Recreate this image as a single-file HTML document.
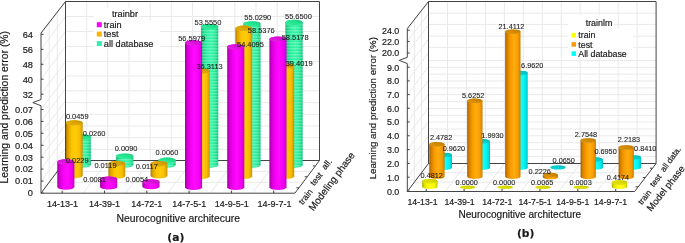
<!DOCTYPE html>
<html><head><meta charset="utf-8"><title>chart</title>
<style>html,body{margin:0;padding:0;background:#fff}svg{display:block}</style></head>
<body>
<svg width="685" height="243" viewBox="0 0 685 243">

<defs>
<linearGradient id="gM" x1="0" x2="1" y1="0" y2="0">
 <stop offset="0" stop-color="#9a009a"/><stop offset="0.13" stop-color="#d000d0"/><stop offset="0.35" stop-color="#f800f8"/><stop offset="0.58" stop-color="#ff0aff"/><stop offset="0.82" stop-color="#f000f0"/><stop offset="1" stop-color="#c600c6"/>
</linearGradient>
<linearGradient id="gO" x1="0" x2="1" y1="0" y2="0">
 <stop offset="0" stop-color="#a87400"/><stop offset="0.13" stop-color="#e0a200"/><stop offset="0.35" stop-color="#fcc400"/><stop offset="0.58" stop-color="#ffcc08"/><stop offset="0.82" stop-color="#f8bc00"/><stop offset="1" stop-color="#cc9000"/>
</linearGradient>
<linearGradient id="gG" x1="0" x2="1" y1="0" y2="0">
 <stop offset="0" stop-color="#10a868"/><stop offset="0.13" stop-color="#1cd888"/><stop offset="0.35" stop-color="#2cf0a0"/><stop offset="0.58" stop-color="#38f6aa"/><stop offset="0.82" stop-color="#28e898"/><stop offset="1" stop-color="#16c07a"/>
</linearGradient>
<linearGradient id="gY" x1="0" x2="1" y1="0" y2="0">
 <stop offset="0" stop-color="#a8a800"/><stop offset="0.13" stop-color="#dcdc00"/><stop offset="0.35" stop-color="#fafa00"/><stop offset="0.58" stop-color="#ffff18"/><stop offset="0.82" stop-color="#f4f400"/><stop offset="1" stop-color="#c4c400"/>
</linearGradient>
<linearGradient id="gR" x1="0" x2="1" y1="0" y2="0">
 <stop offset="0" stop-color="#9c5800"/><stop offset="0.13" stop-color="#d88000"/><stop offset="0.35" stop-color="#f89c00"/><stop offset="0.58" stop-color="#ffac10"/><stop offset="0.82" stop-color="#f89e00"/><stop offset="1" stop-color="#cc7c00"/>
</linearGradient>
<linearGradient id="gC" x1="0" x2="1" y1="0" y2="0">
 <stop offset="0" stop-color="#00a4a4"/><stop offset="0.13" stop-color="#00d8d8"/><stop offset="0.35" stop-color="#00f8f8"/><stop offset="0.58" stop-color="#10ffff"/><stop offset="0.82" stop-color="#00f0f0"/><stop offset="1" stop-color="#00c0c0"/>
</linearGradient>
<pattern id="stripe" width="4" height="3" patternUnits="userSpaceOnUse">
 <rect x="0" y="0" width="4" height="1.4" fill="#ffffff" fill-opacity="0.24"/>
</pattern>
<linearGradient id="tgM" x1="0" y1="1" x2="1" y2="0"><stop offset="0" stop-color="#e02ce0"/><stop offset="0.5" stop-color="#dc10dc"/><stop offset="1" stop-color="#bd0dbd"/></linearGradient>
<linearGradient id="tgO" x1="0" y1="1" x2="1" y2="0"><stop offset="0" stop-color="#e0b01e"/><stop offset="0.5" stop-color="#dca600"/><stop offset="1" stop-color="#bd8e00"/></linearGradient>
<linearGradient id="tgG" x1="0" y1="1" x2="1" y2="0"><stop offset="0" stop-color="#3ce99d"/><stop offset="0.5" stop-color="#22e690"/><stop offset="1" stop-color="#1dc57b"/></linearGradient>
<linearGradient id="tgY" x1="0" y1="1" x2="1" y2="0"><stop offset="0" stop-color="#e0e01e"/><stop offset="0.5" stop-color="#dcdc00"/><stop offset="1" stop-color="#bdbd00"/></linearGradient>
<linearGradient id="tgR" x1="0" y1="1" x2="1" y2="0"><stop offset="0" stop-color="#d9981e"/><stop offset="0.5" stop-color="#d48a00"/><stop offset="1" stop-color="#b67600"/></linearGradient>
<linearGradient id="tgC" x1="0" y1="1" x2="1" y2="0"><stop offset="0" stop-color="#1ed5d5"/><stop offset="0.5" stop-color="#00d0d0"/><stop offset="1" stop-color="#00b2b2"/></linearGradient>
</defs>

<rect width="685" height="243" fill="#fff"/>
<rect x="65.5" y="1.5" width="254.0" height="159.0" fill="#fff"/>
<line x1="86.7" y1="1.5" x2="86.7" y2="160.5" stroke="#e9e9e9" stroke-width="1"/>
<line x1="86.7" y1="160.5" x2="62.2" y2="193.2" stroke="#e9e9e9" stroke-width="1"/>
<line x1="107.8" y1="1.5" x2="107.8" y2="160.5" stroke="#e9e9e9" stroke-width="1"/>
<line x1="107.8" y1="160.5" x2="83.3" y2="193.2" stroke="#e9e9e9" stroke-width="1"/>
<line x1="129.0" y1="1.5" x2="129.0" y2="160.5" stroke="#e9e9e9" stroke-width="1"/>
<line x1="129.0" y1="160.5" x2="104.5" y2="193.2" stroke="#e9e9e9" stroke-width="1"/>
<line x1="150.2" y1="1.5" x2="150.2" y2="160.5" stroke="#e9e9e9" stroke-width="1"/>
<line x1="150.2" y1="160.5" x2="125.6" y2="193.2" stroke="#e9e9e9" stroke-width="1"/>
<line x1="171.3" y1="1.5" x2="171.3" y2="160.5" stroke="#e9e9e9" stroke-width="1"/>
<line x1="171.3" y1="160.5" x2="146.8" y2="193.2" stroke="#e9e9e9" stroke-width="1"/>
<line x1="192.5" y1="1.5" x2="192.5" y2="160.5" stroke="#e9e9e9" stroke-width="1"/>
<line x1="192.5" y1="160.5" x2="167.9" y2="193.2" stroke="#e9e9e9" stroke-width="1"/>
<line x1="213.7" y1="1.5" x2="213.7" y2="160.5" stroke="#e9e9e9" stroke-width="1"/>
<line x1="213.7" y1="160.5" x2="189.1" y2="193.2" stroke="#e9e9e9" stroke-width="1"/>
<line x1="234.8" y1="1.5" x2="234.8" y2="160.5" stroke="#e9e9e9" stroke-width="1"/>
<line x1="234.8" y1="160.5" x2="210.3" y2="193.2" stroke="#e9e9e9" stroke-width="1"/>
<line x1="256.0" y1="1.5" x2="256.0" y2="160.5" stroke="#e9e9e9" stroke-width="1"/>
<line x1="256.0" y1="160.5" x2="231.4" y2="193.2" stroke="#e9e9e9" stroke-width="1"/>
<line x1="277.2" y1="1.5" x2="277.2" y2="160.5" stroke="#e9e9e9" stroke-width="1"/>
<line x1="277.2" y1="160.5" x2="252.6" y2="193.2" stroke="#e9e9e9" stroke-width="1"/>
<line x1="298.3" y1="1.5" x2="298.3" y2="160.5" stroke="#e9e9e9" stroke-width="1"/>
<line x1="298.3" y1="160.5" x2="273.7" y2="193.2" stroke="#e9e9e9" stroke-width="1"/>
<line x1="65.5" y1="16.5" x2="319.5" y2="16.5" stroke="#e9e9e9" stroke-width="1"/>
<line x1="65.5" y1="31.5" x2="319.5" y2="31.5" stroke="#e9e9e9" stroke-width="1"/>
<line x1="65.5" y1="46.5" x2="319.5" y2="46.5" stroke="#e9e9e9" stroke-width="1"/>
<line x1="65.5" y1="61.5" x2="319.5" y2="61.5" stroke="#e9e9e9" stroke-width="1"/>
<line x1="65.5" y1="76.0" x2="319.5" y2="76.0" stroke="#e9e9e9" stroke-width="1"/>
<line x1="65.5" y1="90.9" x2="319.5" y2="90.9" stroke="#e9e9e9" stroke-width="1"/>
<line x1="65.5" y1="102.6" x2="319.5" y2="102.6" stroke="#e9e9e9" stroke-width="1"/>
<line x1="65.5" y1="114.3" x2="319.5" y2="114.3" stroke="#e9e9e9" stroke-width="1"/>
<line x1="65.5" y1="126.0" x2="319.5" y2="126.0" stroke="#e9e9e9" stroke-width="1"/>
<line x1="65.5" y1="137.7" x2="319.5" y2="137.7" stroke="#e9e9e9" stroke-width="1"/>
<line x1="65.5" y1="149.4" x2="319.5" y2="149.4" stroke="#e9e9e9" stroke-width="1"/>
<line x1="41.0" y1="34.3" x2="65.5" y2="1.6" stroke="#e9e9e9" stroke-width="1"/>
<line x1="41.0" y1="49.3" x2="65.5" y2="16.6" stroke="#e9e9e9" stroke-width="1"/>
<line x1="41.0" y1="64.3" x2="65.5" y2="31.6" stroke="#e9e9e9" stroke-width="1"/>
<line x1="41.0" y1="79.2" x2="65.5" y2="46.5" stroke="#e9e9e9" stroke-width="1"/>
<line x1="41.0" y1="94.2" x2="65.5" y2="61.5" stroke="#e9e9e9" stroke-width="1"/>
<line x1="41.0" y1="109.5" x2="65.5" y2="76.8" stroke="#e9e9e9" stroke-width="1"/>
<line x1="41.0" y1="121.4" x2="65.5" y2="88.7" stroke="#e9e9e9" stroke-width="1"/>
<line x1="41.0" y1="133.3" x2="65.5" y2="100.7" stroke="#e9e9e9" stroke-width="1"/>
<line x1="41.0" y1="145.3" x2="65.5" y2="112.6" stroke="#e9e9e9" stroke-width="1"/>
<line x1="41.0" y1="157.2" x2="65.5" y2="124.5" stroke="#e9e9e9" stroke-width="1"/>
<line x1="41.0" y1="169.1" x2="65.5" y2="136.4" stroke="#e9e9e9" stroke-width="1"/>
<line x1="41.0" y1="181.1" x2="65.5" y2="148.4" stroke="#e9e9e9" stroke-width="1"/>
<line x1="41.0" y1="192.9" x2="65.5" y2="160.2" stroke="#e9e9e9" stroke-width="1"/>
<line x1="49.2" y1="22.5" x2="49.2" y2="182.3" stroke="#e9e9e9" stroke-width="1"/>
<line x1="49.2" y1="182.3" x2="303.1" y2="182.3" stroke="#e9e9e9" stroke-width="1"/>
<line x1="57.3" y1="12.0" x2="57.3" y2="171.4" stroke="#e9e9e9" stroke-width="1"/>
<line x1="57.3" y1="171.4" x2="311.3" y2="171.4" stroke="#e9e9e9" stroke-width="1"/>
<polyline points="41,33 65.5,1.5 319.5,1.5 319.5,160.5 65.5,160.5" fill="none" stroke="#444" stroke-width="1"/>
<line x1="65.5" y1="1.5" x2="65.5" y2="160.5" stroke="#444" stroke-width="1"/>
<line x1="41.0" y1="193.2" x2="65.5" y2="160.5" stroke="#444" stroke-width="1"/>
<line x1="319.5" y1="160.5" x2="294.9" y2="193.2" stroke="#444" stroke-width="1"/>
<line x1="41.0" y1="193.2" x2="294.9" y2="193.2" stroke="#444" stroke-width="1"/>
<polyline points="41,33 41,99.5 32.8,102.6 41,105.69999999999999 41,193.2" fill="none" stroke="#444" stroke-width="1"/>
<line x1="41.0" y1="34.3" x2="43.5" y2="34.3" stroke="#444" stroke-width="1"/>
<text x="33.0" y="37.6" font-size="9.25" text-anchor="end" font-family='"Liberation Sans", Arial, sans-serif' fill="#1a1a1a" stroke="#1a1a1a" stroke-width="0.18">64</text>
<line x1="41.0" y1="49.3" x2="43.5" y2="49.3" stroke="#444" stroke-width="1"/>
<text x="33.0" y="52.6" font-size="9.25" text-anchor="end" font-family='"Liberation Sans", Arial, sans-serif' fill="#1a1a1a" stroke="#1a1a1a" stroke-width="0.18">56</text>
<line x1="41.0" y1="64.3" x2="43.5" y2="64.3" stroke="#444" stroke-width="1"/>
<text x="33.0" y="67.6" font-size="9.25" text-anchor="end" font-family='"Liberation Sans", Arial, sans-serif' fill="#1a1a1a" stroke="#1a1a1a" stroke-width="0.18">48</text>
<line x1="41.0" y1="79.2" x2="43.5" y2="79.2" stroke="#444" stroke-width="1"/>
<text x="33.0" y="82.5" font-size="9.25" text-anchor="end" font-family='"Liberation Sans", Arial, sans-serif' fill="#1a1a1a" stroke="#1a1a1a" stroke-width="0.18">40</text>
<line x1="41.0" y1="94.2" x2="43.5" y2="94.2" stroke="#444" stroke-width="1"/>
<text x="33.0" y="97.5" font-size="9.25" text-anchor="end" font-family='"Liberation Sans", Arial, sans-serif' fill="#1a1a1a" stroke="#1a1a1a" stroke-width="0.18">32</text>
<line x1="41.0" y1="109.5" x2="43.5" y2="109.5" stroke="#444" stroke-width="1"/>
<text x="33.0" y="112.8" font-size="9.25" text-anchor="end" font-family='"Liberation Sans", Arial, sans-serif' fill="#1a1a1a" stroke="#1a1a1a" stroke-width="0.18">0.07</text>
<line x1="41.0" y1="121.4" x2="43.5" y2="121.4" stroke="#444" stroke-width="1"/>
<text x="33.0" y="124.7" font-size="9.25" text-anchor="end" font-family='"Liberation Sans", Arial, sans-serif' fill="#1a1a1a" stroke="#1a1a1a" stroke-width="0.18">0.06</text>
<line x1="41.0" y1="133.3" x2="43.5" y2="133.3" stroke="#444" stroke-width="1"/>
<text x="33.0" y="136.7" font-size="9.25" text-anchor="end" font-family='"Liberation Sans", Arial, sans-serif' fill="#1a1a1a" stroke="#1a1a1a" stroke-width="0.18">0.05</text>
<line x1="41.0" y1="145.3" x2="43.5" y2="145.3" stroke="#444" stroke-width="1"/>
<text x="33.0" y="148.6" font-size="9.25" text-anchor="end" font-family='"Liberation Sans", Arial, sans-serif' fill="#1a1a1a" stroke="#1a1a1a" stroke-width="0.18">0.04</text>
<line x1="41.0" y1="157.2" x2="43.5" y2="157.2" stroke="#444" stroke-width="1"/>
<text x="33.0" y="160.5" font-size="9.25" text-anchor="end" font-family='"Liberation Sans", Arial, sans-serif' fill="#1a1a1a" stroke="#1a1a1a" stroke-width="0.18">0.03</text>
<line x1="41.0" y1="169.1" x2="43.5" y2="169.1" stroke="#444" stroke-width="1"/>
<text x="33.0" y="172.4" font-size="9.25" text-anchor="end" font-family='"Liberation Sans", Arial, sans-serif' fill="#1a1a1a" stroke="#1a1a1a" stroke-width="0.18">0.02</text>
<line x1="41.0" y1="181.1" x2="43.5" y2="181.1" stroke="#444" stroke-width="1"/>
<text x="33.0" y="184.4" font-size="9.25" text-anchor="end" font-family='"Liberation Sans", Arial, sans-serif' fill="#1a1a1a" stroke="#1a1a1a" stroke-width="0.18">0.01</text>
<line x1="41.0" y1="192.9" x2="43.5" y2="192.9" stroke="#444" stroke-width="1"/>
<text x="33.0" y="196.2" font-size="9.25" text-anchor="end" font-family='"Liberation Sans", Arial, sans-serif' fill="#1a1a1a" stroke="#1a1a1a" stroke-width="0.18">0</text>
<line x1="299.0" y1="187.8" x2="296.4" y2="187.8" stroke="#444" stroke-width="1"/>
<line x1="307.2" y1="176.8" x2="304.6" y2="176.8" stroke="#444" stroke-width="1"/>
<line x1="315.4" y1="165.9" x2="312.8" y2="165.9" stroke="#444" stroke-width="1"/>
<line x1="62.2" y1="193.2" x2="62.2" y2="190.6" stroke="#444" stroke-width="1"/>
<text x="62.5" y="206.9" font-size="9.0" text-anchor="middle" font-family='"Liberation Sans", Arial, sans-serif' fill="#1a1a1a" stroke="#1a1a1a" stroke-width="0.18">14-13-1</text>
<line x1="104.5" y1="193.2" x2="104.5" y2="190.6" stroke="#444" stroke-width="1"/>
<text x="104.5" y="206.9" font-size="9.0" text-anchor="middle" font-family='"Liberation Sans", Arial, sans-serif' fill="#1a1a1a" stroke="#1a1a1a" stroke-width="0.18">14-39-1</text>
<line x1="146.8" y1="193.2" x2="146.8" y2="190.6" stroke="#444" stroke-width="1"/>
<text x="146.8" y="206.9" font-size="9.0" text-anchor="middle" font-family='"Liberation Sans", Arial, sans-serif' fill="#1a1a1a" stroke="#1a1a1a" stroke-width="0.18">14-72-1</text>
<line x1="189.1" y1="193.2" x2="189.1" y2="190.6" stroke="#444" stroke-width="1"/>
<text x="189.2" y="206.9" font-size="9.0" text-anchor="middle" font-family='"Liberation Sans", Arial, sans-serif' fill="#1a1a1a" stroke="#1a1a1a" stroke-width="0.18">14-7-5-1</text>
<line x1="231.4" y1="193.2" x2="231.4" y2="190.6" stroke="#444" stroke-width="1"/>
<text x="231.8" y="206.9" font-size="9.0" text-anchor="middle" font-family='"Liberation Sans", Arial, sans-serif' fill="#1a1a1a" stroke="#1a1a1a" stroke-width="0.18">14-9-5-1</text>
<line x1="273.7" y1="193.2" x2="273.7" y2="190.6" stroke="#444" stroke-width="1"/>
<text x="274.5" y="206.9" font-size="9.0" text-anchor="middle" font-family='"Liberation Sans", Arial, sans-serif' fill="#1a1a1a" stroke="#1a1a1a" stroke-width="0.18">14-9-7-1</text>
<rect x="94.3" y="7.5" width="46.2" height="14" fill="#fff"/>
<rect x="94.3" y="20.5" width="65.7" height="27.5" fill="#fff"/>
<text x="125.0" y="16.5" font-size="9.2" text-anchor="middle" font-family='"Liberation Sans", Arial, sans-serif' fill="#1a1a1a" stroke="#1a1a1a" stroke-width="0.18">trainbr</text>
<rect x="96.8" y="22.2" width="5" height="5" fill="#ff00ff"/>
<text x="103.8" y="27.9" font-size="9.2" font-family='"Liberation Sans", Arial, sans-serif' fill="#1a1a1a" stroke="#1a1a1a" stroke-width="0.18">train</text>
<rect x="96.8" y="31.6" width="5" height="5" fill="#ffb400"/>
<text x="103.8" y="37.4" font-size="9.2" font-family='"Liberation Sans", Arial, sans-serif' fill="#1a1a1a" stroke="#1a1a1a" stroke-width="0.18">test</text>
<rect x="96.8" y="41.1" width="5" height="5" fill="#33eeaa"/>
<text x="103.8" y="46.8" font-size="9.2" font-family='"Liberation Sans", Arial, sans-serif' fill="#1a1a1a" stroke="#1a1a1a" stroke-width="0.18">all database</text>
<path d="M73.6,136.9 L73.6,165.0 A8.65,2.70 0 0 0 90.9,165.0 L90.9,136.9 A8.65,2.70 0 0 0 73.6,136.9 Z" fill="url(#gG)"/>
<path d="M73.6,136.9 L73.6,165.0 A8.65,2.70 0 0 0 90.9,165.0 L90.9,136.9 A8.65,2.70 0 0 0 73.6,136.9 Z" fill="url(#stripe)"/>
<ellipse cx="82.2" cy="136.9" rx="8.65" ry="2.70" fill="url(#tgG)"/>
<path d="M116.1,156.1 L116.1,165.0 A8.65,2.70 0 0 0 133.4,165.0 L133.4,156.1 A8.65,2.70 0 0 0 116.1,156.1 Z" fill="url(#gG)"/>
<path d="M116.1,156.1 L116.1,165.0 A8.65,2.70 0 0 0 133.4,165.0 L133.4,156.1 A8.65,2.70 0 0 0 116.1,156.1 Z" fill="url(#stripe)"/>
<ellipse cx="124.8" cy="156.1" rx="8.65" ry="2.70" fill="url(#tgG)"/>
<path d="M158.4,160.3 L158.4,165.1 A8.65,2.70 0 0 0 175.7,165.1 L175.7,160.3 A8.65,2.70 0 0 0 158.4,160.3 Z" fill="url(#gG)"/>
<path d="M158.4,160.3 L158.4,165.1 A8.65,2.70 0 0 0 175.7,165.1 L175.7,160.3 A8.65,2.70 0 0 0 158.4,160.3 Z" fill="url(#stripe)"/>
<ellipse cx="167.1" cy="160.3" rx="8.65" ry="2.70" fill="url(#tgG)"/>
<path d="M201.0,26.6 L201.0,165.2 A8.65,2.70 0 0 0 218.3,165.2 L218.3,26.6 A8.65,2.70 0 0 0 201.0,26.6 Z" fill="url(#gG)"/>
<path d="M201.0,26.6 L201.0,165.2 A8.65,2.70 0 0 0 218.3,165.2 L218.3,26.6 A8.65,2.70 0 0 0 201.0,26.6 Z" fill="url(#stripe)"/>
<ellipse cx="209.7" cy="26.6" rx="8.65" ry="2.70" fill="url(#tgG)"/>
<path d="M243.3,23.9 L243.3,165.2 A8.65,2.70 0 0 0 260.6,165.2 L260.6,23.9 A8.65,2.70 0 0 0 243.3,23.9 Z" fill="url(#gG)"/>
<path d="M243.3,23.9 L243.3,165.2 A8.65,2.70 0 0 0 260.6,165.2 L260.6,23.9 A8.65,2.70 0 0 0 243.3,23.9 Z" fill="url(#stripe)"/>
<ellipse cx="252.0" cy="23.9" rx="8.65" ry="2.70" fill="url(#tgG)"/>
<path d="M285.4,22.5 L285.4,165.2 A8.65,2.70 0 0 0 302.7,165.2 L302.7,22.5 A8.65,2.70 0 0 0 285.4,22.5 Z" fill="url(#gG)"/>
<path d="M285.4,22.5 L285.4,165.2 A8.65,2.70 0 0 0 302.7,165.2 L302.7,22.5 A8.65,2.70 0 0 0 285.4,22.5 Z" fill="url(#stripe)"/>
<ellipse cx="294.0" cy="22.5" rx="8.65" ry="2.70" fill="url(#tgG)"/>
<path d="M65.9,122.9 L65.9,175.7 A8.40,2.70 0 0 0 82.7,175.7 L82.7,122.9 A8.40,2.70 0 0 0 65.9,122.9 Z" fill="url(#gO)"/>
<ellipse cx="74.3" cy="122.9" rx="8.40" ry="2.70" fill="url(#tgO)"/>
<path d="M108.4,163.7 L108.4,176.1 A8.40,2.70 0 0 0 125.2,176.1 L125.2,163.7 A8.40,2.70 0 0 0 108.4,163.7 Z" fill="url(#gO)"/>
<ellipse cx="116.8" cy="163.7" rx="8.40" ry="2.70" fill="url(#tgO)"/>
<path d="M150.6,163.7 L150.6,175.8 A8.40,2.70 0 0 0 167.4,175.8 L167.4,163.7 A8.40,2.70 0 0 0 150.6,163.7 Z" fill="url(#gO)"/>
<ellipse cx="159.0" cy="163.7" rx="8.40" ry="2.70" fill="url(#tgO)"/>
<path d="M192.9,71.1 L192.9,176.3 A8.40,2.70 0 0 0 209.7,176.3 L209.7,71.1 A8.40,2.70 0 0 0 192.9,71.1 Z" fill="url(#gO)"/>
<ellipse cx="201.3" cy="71.1" rx="8.40" ry="2.70" fill="url(#tgO)"/>
<path d="M235.4,28.3 L235.4,176.3 A8.40,2.70 0 0 0 252.2,176.3 L252.2,28.3 A8.40,2.70 0 0 0 235.4,28.3 Z" fill="url(#gO)"/>
<ellipse cx="243.8" cy="28.3" rx="8.40" ry="2.70" fill="url(#tgO)"/>
<path d="M277.4,65.9 L277.4,176.3 A8.40,2.70 0 0 0 294.2,176.3 L294.2,65.9 A8.40,2.70 0 0 0 277.4,65.9 Z" fill="url(#gO)"/>
<ellipse cx="285.8" cy="65.9" rx="8.40" ry="2.70" fill="url(#tgO)"/>
<path d="M57.3,162.0 L57.3,187.0 A8.55,2.70 0 0 0 74.4,187.0 L74.4,162.0 A8.55,2.70 0 0 0 57.3,162.0 Z" fill="url(#gM)"/>
<ellipse cx="65.8" cy="162.0" rx="8.55" ry="2.70" fill="url(#tgM)"/>
<path d="M100.1,179.1 L100.1,186.9 A8.55,2.70 0 0 0 117.2,186.9 L117.2,179.1 A8.55,2.70 0 0 0 100.1,179.1 Z" fill="url(#gM)"/>
<ellipse cx="108.6" cy="179.1" rx="8.55" ry="2.70" fill="url(#tgM)"/>
<path d="M142.4,181.9 L142.4,186.6 A8.55,2.70 0 0 0 159.5,186.6 L159.5,181.9 A8.55,2.70 0 0 0 142.4,181.9 Z" fill="url(#gM)"/>
<ellipse cx="151.0" cy="181.9" rx="8.55" ry="2.70" fill="url(#tgM)"/>
<path d="M185.0,42.9 L185.0,187.3 A8.55,2.70 0 0 0 202.1,187.3 L202.1,42.9 A8.55,2.70 0 0 0 185.0,42.9 Z" fill="url(#gM)"/>
<ellipse cx="193.6" cy="42.9" rx="8.55" ry="2.70" fill="url(#tgM)"/>
<path d="M227.2,47.0 L227.2,187.3 A8.55,2.70 0 0 0 244.3,187.3 L244.3,47.0 A8.55,2.70 0 0 0 227.2,47.0 Z" fill="url(#gM)"/>
<ellipse cx="235.8" cy="47.0" rx="8.55" ry="2.70" fill="url(#tgM)"/>
<path d="M269.4,39.2 L269.4,187.3 A8.55,2.70 0 0 0 286.5,187.3 L286.5,39.2 A8.55,2.70 0 0 0 269.4,39.2 Z" fill="url(#gM)"/>
<ellipse cx="277.9" cy="39.2" rx="8.55" ry="2.70" fill="url(#tgM)"/>
<text x="65.9" y="119.2" font-size="7.45" font-family='"Liberation Sans", Arial, sans-serif' fill="#1a1a1a" stroke="#1a1a1a" stroke-width="0.08">0.0459</text>
<text x="82.7" y="136.0" font-size="7.45" font-family='"Liberation Sans", Arial, sans-serif' fill="#1a1a1a" stroke="#1a1a1a" stroke-width="0.08">0.0260</text>
<text x="114.7" y="150.8" font-size="7.45" font-family='"Liberation Sans", Arial, sans-serif' fill="#1a1a1a" stroke="#1a1a1a" stroke-width="0.08">0.0090</text>
<text x="155.6" y="154.7" font-size="7.45" font-family='"Liberation Sans", Arial, sans-serif' fill="#1a1a1a" stroke="#1a1a1a" stroke-width="0.08">0.0060</text>
<text x="65.9" y="162.8" font-size="7.45" font-family='"Liberation Sans", Arial, sans-serif' fill="#1a1a1a" stroke="#1a1a1a" stroke-width="0.08">0.0229</text>
<text x="94.4" y="167.5" font-size="7.45" font-family='"Liberation Sans", Arial, sans-serif' fill="#1a1a1a" stroke="#1a1a1a" stroke-width="0.08">0.0119</text>
<text x="135.7" y="169.4" font-size="7.45" font-family='"Liberation Sans", Arial, sans-serif' fill="#1a1a1a" stroke="#1a1a1a" stroke-width="0.08">0.0117</text>
<text x="83.2" y="182.2" font-size="7.45" font-family='"Liberation Sans", Arial, sans-serif' fill="#1a1a1a" stroke="#1a1a1a" stroke-width="0.08">0.0081</text>
<text x="125.5" y="182.2" font-size="7.45" font-family='"Liberation Sans", Arial, sans-serif' fill="#1a1a1a" stroke="#1a1a1a" stroke-width="0.08">0.0054</text>
<text x="194.5" y="24.8" font-size="7.45" font-family='"Liberation Sans", Arial, sans-serif' fill="#1a1a1a" stroke="#1a1a1a" stroke-width="0.08">53.5550</text>
<text x="178.2" y="40.7" font-size="7.45" font-family='"Liberation Sans", Arial, sans-serif' fill="#1a1a1a" stroke="#1a1a1a" stroke-width="0.08">56.5979</text>
<text x="244.3" y="19.7" font-size="7.45" font-family='"Liberation Sans", Arial, sans-serif' fill="#1a1a1a" stroke="#1a1a1a" stroke-width="0.08">55.0290</text>
<text x="247.8" y="33.0" font-size="7.45" font-family='"Liberation Sans", Arial, sans-serif' fill="#1a1a1a" stroke="#1a1a1a" stroke-width="0.08">58.5376</text>
<text x="237.0" y="46.6" font-size="7.45" font-family='"Liberation Sans", Arial, sans-serif' fill="#1a1a1a" stroke="#1a1a1a" stroke-width="0.08">54.4095</text>
<text x="285.0" y="18.5" font-size="7.45" font-family='"Liberation Sans", Arial, sans-serif' fill="#1a1a1a" stroke="#1a1a1a" stroke-width="0.08">55.6500</text>
<text x="281.7" y="39.5" font-size="7.45" font-family='"Liberation Sans", Arial, sans-serif' fill="#1a1a1a" stroke="#1a1a1a" stroke-width="0.08">58.5178</text>
<text x="196.4" y="69.1" font-size="7.45" font-family='"Liberation Sans", Arial, sans-serif' fill="#1a1a1a" stroke="#1a1a1a" stroke-width="0.08">36.3113</text>
<text x="285.7" y="66.3" font-size="7.45" font-family='"Liberation Sans", Arial, sans-serif' fill="#1a1a1a" stroke="#1a1a1a" stroke-width="0.08">39.4019</text>
<text x="8.3" y="107.2" font-size="10.4" text-anchor="middle" transform="rotate(-90 8.3 107.2)" font-family='"Liberation Sans", Arial, sans-serif' fill="#1a1a1a" stroke="#1a1a1a" stroke-width="0.18">Learning and prediction error (%)</text>
<text x="178.2" y="222.4" font-size="10.4" text-anchor="middle" font-family='"Liberation Sans", Arial, sans-serif' fill="#1a1a1a" stroke="#1a1a1a" stroke-width="0.18">Neurocognitive architecure</text>
<text x="175.8" y="241.0" font-size="10.7" text-anchor="middle" font-weight="bold" font-family='"DejaVu Sans", "Liberation Sans", sans-serif' fill="#1a1a1a" stroke="#1a1a1a" stroke-width="0.18">(a)</text>
<text x="302.8" y="205.3" font-size="8.7" transform="rotate(-52 302.8 205.3)" font-family='"Liberation Sans", Arial, sans-serif' fill="#1a1a1a" stroke="#1a1a1a" stroke-width="0.18">train</text>
<text x="314.3" y="186.3" font-size="8.7" transform="rotate(-52 314.3 186.3)" font-family='"Liberation Sans", Arial, sans-serif' fill="#1a1a1a" stroke="#1a1a1a" stroke-width="0.18">test</text>
<text x="325.6" y="170.3" font-size="8.7" transform="rotate(-52 325.6 170.3)" font-family='"Liberation Sans", Arial, sans-serif' fill="#1a1a1a" stroke="#1a1a1a" stroke-width="0.18">all.</text>
<text x="313.6" y="211.6" font-size="9.95" transform="rotate(-53.5 313.6 211.6)" font-family='"Liberation Sans", Arial, sans-serif' fill="#1a1a1a" stroke="#1a1a1a" stroke-width="0.18">Modeling phase</text>
<rect x="428.5" y="1.5" width="227.60000000000002" height="162.0" fill="#fff"/>
<line x1="447.5" y1="1.5" x2="447.5" y2="163.5" stroke="#e9e9e9" stroke-width="1"/>
<line x1="447.5" y1="163.5" x2="426.2" y2="191.5" stroke="#e9e9e9" stroke-width="1"/>
<line x1="466.4" y1="1.5" x2="466.4" y2="163.5" stroke="#e9e9e9" stroke-width="1"/>
<line x1="466.4" y1="163.5" x2="445.2" y2="191.5" stroke="#e9e9e9" stroke-width="1"/>
<line x1="485.4" y1="1.5" x2="485.4" y2="163.5" stroke="#e9e9e9" stroke-width="1"/>
<line x1="485.4" y1="163.5" x2="464.1" y2="191.5" stroke="#e9e9e9" stroke-width="1"/>
<line x1="504.4" y1="1.5" x2="504.4" y2="163.5" stroke="#e9e9e9" stroke-width="1"/>
<line x1="504.4" y1="163.5" x2="483.1" y2="191.5" stroke="#e9e9e9" stroke-width="1"/>
<line x1="523.3" y1="1.5" x2="523.3" y2="163.5" stroke="#e9e9e9" stroke-width="1"/>
<line x1="523.3" y1="163.5" x2="502.0" y2="191.5" stroke="#e9e9e9" stroke-width="1"/>
<line x1="542.3" y1="1.5" x2="542.3" y2="163.5" stroke="#e9e9e9" stroke-width="1"/>
<line x1="542.3" y1="163.5" x2="521.0" y2="191.5" stroke="#e9e9e9" stroke-width="1"/>
<line x1="561.3" y1="1.5" x2="561.3" y2="163.5" stroke="#e9e9e9" stroke-width="1"/>
<line x1="561.3" y1="163.5" x2="539.9" y2="191.5" stroke="#e9e9e9" stroke-width="1"/>
<line x1="580.2" y1="1.5" x2="580.2" y2="163.5" stroke="#e9e9e9" stroke-width="1"/>
<line x1="580.2" y1="163.5" x2="558.8" y2="191.5" stroke="#e9e9e9" stroke-width="1"/>
<line x1="599.2" y1="1.5" x2="599.2" y2="163.5" stroke="#e9e9e9" stroke-width="1"/>
<line x1="599.2" y1="163.5" x2="577.8" y2="191.5" stroke="#e9e9e9" stroke-width="1"/>
<line x1="618.2" y1="1.5" x2="618.2" y2="163.5" stroke="#e9e9e9" stroke-width="1"/>
<line x1="618.2" y1="163.5" x2="596.7" y2="191.5" stroke="#e9e9e9" stroke-width="1"/>
<line x1="637.1" y1="1.5" x2="637.1" y2="163.5" stroke="#e9e9e9" stroke-width="1"/>
<line x1="637.1" y1="163.5" x2="615.7" y2="191.5" stroke="#e9e9e9" stroke-width="1"/>
<line x1="428.5" y1="13.1" x2="656.1" y2="13.1" stroke="#e9e9e9" stroke-width="1"/>
<line x1="428.5" y1="24.4" x2="656.1" y2="24.4" stroke="#e9e9e9" stroke-width="1"/>
<line x1="428.5" y1="36.2" x2="656.1" y2="36.2" stroke="#e9e9e9" stroke-width="1"/>
<line x1="428.5" y1="47.3" x2="656.1" y2="47.3" stroke="#e9e9e9" stroke-width="1"/>
<line x1="428.5" y1="156.3" x2="656.1" y2="156.3" stroke="#e9e9e9" stroke-width="1"/>
<line x1="428.5" y1="149.5" x2="656.1" y2="149.5" stroke="#e9e9e9" stroke-width="1"/>
<line x1="428.5" y1="142.7" x2="656.1" y2="142.7" stroke="#e9e9e9" stroke-width="1"/>
<line x1="428.5" y1="135.8" x2="656.1" y2="135.8" stroke="#e9e9e9" stroke-width="1"/>
<line x1="428.5" y1="129.0" x2="656.1" y2="129.0" stroke="#e9e9e9" stroke-width="1"/>
<line x1="428.5" y1="122.1" x2="656.1" y2="122.1" stroke="#e9e9e9" stroke-width="1"/>
<line x1="428.5" y1="115.3" x2="656.1" y2="115.3" stroke="#e9e9e9" stroke-width="1"/>
<line x1="428.5" y1="108.4" x2="656.1" y2="108.4" stroke="#e9e9e9" stroke-width="1"/>
<line x1="428.5" y1="101.6" x2="656.1" y2="101.6" stroke="#e9e9e9" stroke-width="1"/>
<line x1="428.5" y1="94.7" x2="656.1" y2="94.7" stroke="#e9e9e9" stroke-width="1"/>
<line x1="428.5" y1="87.9" x2="656.1" y2="87.9" stroke="#e9e9e9" stroke-width="1"/>
<line x1="428.5" y1="81.0" x2="656.1" y2="81.0" stroke="#e9e9e9" stroke-width="1"/>
<line x1="428.5" y1="74.2" x2="656.1" y2="74.2" stroke="#e9e9e9" stroke-width="1"/>
<line x1="428.5" y1="67.3" x2="656.1" y2="67.3" stroke="#e9e9e9" stroke-width="1"/>
<line x1="428.5" y1="60.5" x2="656.1" y2="60.5" stroke="#e9e9e9" stroke-width="1"/>
<line x1="407.3" y1="30.2" x2="428.5" y2="2.2" stroke="#e9e9e9" stroke-width="1"/>
<line x1="407.3" y1="41.6" x2="428.5" y2="13.6" stroke="#e9e9e9" stroke-width="1"/>
<line x1="407.3" y1="53.0" x2="428.5" y2="25.0" stroke="#e9e9e9" stroke-width="1"/>
<line x1="407.3" y1="67.2" x2="428.5" y2="39.2" stroke="#e9e9e9" stroke-width="1"/>
<line x1="407.3" y1="80.9" x2="428.5" y2="52.9" stroke="#e9e9e9" stroke-width="1"/>
<line x1="407.3" y1="94.6" x2="428.5" y2="66.6" stroke="#e9e9e9" stroke-width="1"/>
<line x1="407.3" y1="108.3" x2="428.5" y2="80.3" stroke="#e9e9e9" stroke-width="1"/>
<line x1="407.3" y1="122.0" x2="428.5" y2="94.0" stroke="#e9e9e9" stroke-width="1"/>
<line x1="407.3" y1="135.8" x2="428.5" y2="107.8" stroke="#e9e9e9" stroke-width="1"/>
<line x1="407.3" y1="149.6" x2="428.5" y2="121.6" stroke="#e9e9e9" stroke-width="1"/>
<line x1="407.3" y1="163.4" x2="428.5" y2="135.4" stroke="#e9e9e9" stroke-width="1"/>
<line x1="407.3" y1="177.2" x2="428.5" y2="149.2" stroke="#e9e9e9" stroke-width="1"/>
<line x1="407.3" y1="191.2" x2="428.5" y2="163.2" stroke="#e9e9e9" stroke-width="1"/>
<line x1="414.4" y1="19.6" x2="414.4" y2="182.2" stroke="#e9e9e9" stroke-width="1"/>
<line x1="414.4" y1="182.2" x2="641.8" y2="182.2" stroke="#e9e9e9" stroke-width="1"/>
<line x1="421.4" y1="10.5" x2="421.4" y2="172.8" stroke="#e9e9e9" stroke-width="1"/>
<line x1="421.4" y1="172.8" x2="648.9" y2="172.8" stroke="#e9e9e9" stroke-width="1"/>
<polyline points="407.3,28.6 428.5,1.5 656.1,1.5 656.1,163.5 428.5,163.5" fill="none" stroke="#444" stroke-width="1"/>
<line x1="428.5" y1="1.5" x2="428.5" y2="163.5" stroke="#444" stroke-width="1"/>
<line x1="407.3" y1="191.5" x2="428.5" y2="163.5" stroke="#444" stroke-width="1"/>
<line x1="656.1" y1="163.5" x2="634.6" y2="191.5" stroke="#444" stroke-width="1"/>
<line x1="407.3" y1="191.5" x2="634.6" y2="191.5" stroke="#444" stroke-width="1"/>
<polyline points="407.3,28.6 407.3,57.3 399.1,60.4 407.3,63.5 407.3,191.5" fill="none" stroke="#444" stroke-width="1"/>
<line x1="407.3" y1="30.2" x2="409.8" y2="30.2" stroke="#444" stroke-width="1"/>
<text x="399.3" y="33.6" font-size="8.9" text-anchor="end" font-family='"Liberation Sans", Arial, sans-serif' fill="#1a1a1a" stroke="#1a1a1a" stroke-width="0.18">24.0</text>
<line x1="407.3" y1="41.6" x2="409.8" y2="41.6" stroke="#444" stroke-width="1"/>
<text x="399.3" y="45.0" font-size="8.9" text-anchor="end" font-family='"Liberation Sans", Arial, sans-serif' fill="#1a1a1a" stroke="#1a1a1a" stroke-width="0.18">22.0</text>
<line x1="407.3" y1="53.0" x2="409.8" y2="53.0" stroke="#444" stroke-width="1"/>
<text x="399.3" y="56.4" font-size="8.9" text-anchor="end" font-family='"Liberation Sans", Arial, sans-serif' fill="#1a1a1a" stroke="#1a1a1a" stroke-width="0.18">20.0</text>
<line x1="407.3" y1="67.2" x2="409.8" y2="67.2" stroke="#444" stroke-width="1"/>
<text x="399.3" y="70.6" font-size="8.9" text-anchor="end" font-family='"Liberation Sans", Arial, sans-serif' fill="#1a1a1a" stroke="#1a1a1a" stroke-width="0.18">9.0</text>
<line x1="407.3" y1="80.9" x2="409.8" y2="80.9" stroke="#444" stroke-width="1"/>
<text x="399.3" y="84.3" font-size="8.9" text-anchor="end" font-family='"Liberation Sans", Arial, sans-serif' fill="#1a1a1a" stroke="#1a1a1a" stroke-width="0.18">8.0</text>
<line x1="407.3" y1="94.6" x2="409.8" y2="94.6" stroke="#444" stroke-width="1"/>
<text x="399.3" y="98.0" font-size="8.9" text-anchor="end" font-family='"Liberation Sans", Arial, sans-serif' fill="#1a1a1a" stroke="#1a1a1a" stroke-width="0.18">7.0</text>
<line x1="407.3" y1="108.3" x2="409.8" y2="108.3" stroke="#444" stroke-width="1"/>
<text x="399.3" y="111.7" font-size="8.9" text-anchor="end" font-family='"Liberation Sans", Arial, sans-serif' fill="#1a1a1a" stroke="#1a1a1a" stroke-width="0.18">6.0</text>
<line x1="407.3" y1="122.0" x2="409.8" y2="122.0" stroke="#444" stroke-width="1"/>
<text x="399.3" y="125.4" font-size="8.9" text-anchor="end" font-family='"Liberation Sans", Arial, sans-serif' fill="#1a1a1a" stroke="#1a1a1a" stroke-width="0.18">5.0</text>
<line x1="407.3" y1="135.8" x2="409.8" y2="135.8" stroke="#444" stroke-width="1"/>
<text x="399.3" y="139.2" font-size="8.9" text-anchor="end" font-family='"Liberation Sans", Arial, sans-serif' fill="#1a1a1a" stroke="#1a1a1a" stroke-width="0.18">4.0</text>
<line x1="407.3" y1="149.6" x2="409.8" y2="149.6" stroke="#444" stroke-width="1"/>
<text x="399.3" y="153.0" font-size="8.9" text-anchor="end" font-family='"Liberation Sans", Arial, sans-serif' fill="#1a1a1a" stroke="#1a1a1a" stroke-width="0.18">3.0</text>
<line x1="407.3" y1="163.4" x2="409.8" y2="163.4" stroke="#444" stroke-width="1"/>
<text x="399.3" y="166.8" font-size="8.9" text-anchor="end" font-family='"Liberation Sans", Arial, sans-serif' fill="#1a1a1a" stroke="#1a1a1a" stroke-width="0.18">2.0</text>
<line x1="407.3" y1="177.2" x2="409.8" y2="177.2" stroke="#444" stroke-width="1"/>
<text x="399.3" y="180.6" font-size="8.9" text-anchor="end" font-family='"Liberation Sans", Arial, sans-serif' fill="#1a1a1a" stroke="#1a1a1a" stroke-width="0.18">1.0</text>
<line x1="407.3" y1="191.2" x2="409.8" y2="191.2" stroke="#444" stroke-width="1"/>
<text x="399.3" y="194.6" font-size="8.9" text-anchor="end" font-family='"Liberation Sans", Arial, sans-serif' fill="#1a1a1a" stroke="#1a1a1a" stroke-width="0.18">0.0</text>
<line x1="638.2" y1="186.8" x2="635.6" y2="186.8" stroke="#444" stroke-width="1"/>
<line x1="645.4" y1="177.5" x2="642.8" y2="177.5" stroke="#444" stroke-width="1"/>
<line x1="652.5" y1="168.2" x2="649.9" y2="168.2" stroke="#444" stroke-width="1"/>
<line x1="426.2" y1="191.5" x2="426.2" y2="188.9" stroke="#444" stroke-width="1"/>
<text x="422.5" y="204.5" font-size="8.75" text-anchor="middle" font-family='"Liberation Sans", Arial, sans-serif' fill="#1a1a1a" stroke="#1a1a1a" stroke-width="0.18">14-13-1</text>
<line x1="464.1" y1="191.5" x2="464.1" y2="188.9" stroke="#444" stroke-width="1"/>
<text x="459.6" y="204.5" font-size="8.75" text-anchor="middle" font-family='"Liberation Sans", Arial, sans-serif' fill="#1a1a1a" stroke="#1a1a1a" stroke-width="0.18">14-39-1</text>
<line x1="502.0" y1="191.5" x2="502.0" y2="188.9" stroke="#444" stroke-width="1"/>
<text x="497.3" y="204.5" font-size="8.75" text-anchor="middle" font-family='"Liberation Sans", Arial, sans-serif' fill="#1a1a1a" stroke="#1a1a1a" stroke-width="0.18">14-72-1</text>
<line x1="539.9" y1="191.5" x2="539.9" y2="188.9" stroke="#444" stroke-width="1"/>
<text x="535.0" y="204.5" font-size="8.75" text-anchor="middle" font-family='"Liberation Sans", Arial, sans-serif' fill="#1a1a1a" stroke="#1a1a1a" stroke-width="0.18">14-7-5-1</text>
<line x1="577.8" y1="191.5" x2="577.8" y2="188.9" stroke="#444" stroke-width="1"/>
<text x="572.8" y="204.5" font-size="8.75" text-anchor="middle" font-family='"Liberation Sans", Arial, sans-serif' fill="#1a1a1a" stroke="#1a1a1a" stroke-width="0.18">14-9-5-1</text>
<line x1="615.7" y1="191.5" x2="615.7" y2="188.9" stroke="#444" stroke-width="1"/>
<text x="610.5" y="204.5" font-size="8.75" text-anchor="middle" font-family='"Liberation Sans", Arial, sans-serif' fill="#1a1a1a" stroke="#1a1a1a" stroke-width="0.18">14-9-7-1</text>
<rect x="568.2" y="15" width="45.3" height="14" fill="#fff"/>
<rect x="568.2" y="28.6" width="64.8" height="29.4" fill="#fff"/>
<text x="599.0" y="25.8" font-size="8.9" text-anchor="middle" font-family='"Liberation Sans", Arial, sans-serif' fill="#1a1a1a" stroke="#1a1a1a" stroke-width="0.18">trainlm</text>
<rect x="571.5" y="32.9" width="4.6" height="4.6" fill="#ffff00"/>
<text x="578.3" y="38.3" font-size="8.8" font-family='"Liberation Sans", Arial, sans-serif' fill="#1a1a1a" stroke="#1a1a1a" stroke-width="0.18">train</text>
<rect x="571.5" y="42.1" width="4.6" height="4.6" fill="#ff9900"/>
<text x="578.3" y="47.5" font-size="8.8" font-family='"Liberation Sans", Arial, sans-serif' fill="#1a1a1a" stroke="#1a1a1a" stroke-width="0.18">test</text>
<rect x="571.5" y="51.3" width="4.6" height="4.6" fill="#00ffff"/>
<text x="578.3" y="56.7" font-size="8.8" font-family='"Liberation Sans", Arial, sans-serif' fill="#1a1a1a" stroke="#1a1a1a" stroke-width="0.18">All database</text>
<path d="M436.5,155.0 L436.5,167.6 A7.75,2.30 0 0 0 452.0,167.6 L452.0,155.0 A7.75,2.30 0 0 0 436.5,155.0 Z" fill="url(#gC)"/>
<ellipse cx="444.2" cy="155.0" rx="7.75" ry="2.30" fill="url(#tgC)"/>
<path d="M474.5,141.4 L474.5,167.7 A7.75,2.30 0 0 0 490.0,167.7 L490.0,141.4 A7.75,2.30 0 0 0 474.5,141.4 Z" fill="url(#gC)"/>
<ellipse cx="482.2" cy="141.4" rx="7.75" ry="2.30" fill="url(#tgC)"/>
<path d="M512.2,73.0 L512.2,167.7 A7.75,2.30 0 0 0 527.7,167.7 L527.7,73.0 A7.75,2.30 0 0 0 512.2,73.0 Z" fill="url(#gC)"/>
<ellipse cx="520.0" cy="73.0" rx="7.75" ry="2.30" fill="url(#tgC)"/>
<path d="M587.5,159.6 L587.5,167.4 A7.75,2.30 0 0 0 603.0,167.4 L603.0,159.6 A7.75,2.30 0 0 0 587.5,159.6 Z" fill="url(#gC)"/>
<ellipse cx="595.2" cy="159.6" rx="7.75" ry="2.30" fill="url(#tgC)"/>
<path d="M625.6,157.5 L625.6,167.4 A7.75,2.30 0 0 0 641.1,167.4 L641.1,157.5 A7.75,2.30 0 0 0 625.6,157.5 Z" fill="url(#gC)"/>
<ellipse cx="633.4" cy="157.5" rx="7.75" ry="2.30" fill="url(#tgC)"/>
<ellipse cx="558.0" cy="167.4" rx="7.75" ry="2.20" fill="url(#tgC)"/>
<path d="M429.3,144.3 L429.3,176.6 A7.65,2.30 0 0 0 444.6,176.6 L444.6,144.3 A7.65,2.30 0 0 0 429.3,144.3 Z" fill="url(#gR)"/>
<ellipse cx="436.9" cy="144.3" rx="7.65" ry="2.30" fill="url(#tgR)"/>
<path d="M467.2,100.8 L467.2,176.6 A7.65,2.30 0 0 0 482.5,176.6 L482.5,100.8 A7.65,2.30 0 0 0 467.2,100.8 Z" fill="url(#gR)"/>
<ellipse cx="474.8" cy="100.8" rx="7.65" ry="2.30" fill="url(#tgR)"/>
<path d="M505.2,31.7 L505.2,176.6 A7.65,2.30 0 0 0 520.5,176.6 L520.5,31.7 A7.65,2.30 0 0 0 505.2,31.7 Z" fill="url(#gR)"/>
<ellipse cx="512.9" cy="31.7" rx="7.65" ry="2.30" fill="url(#tgR)"/>
<path d="M542.8,175.1 L542.8,177.0 A7.65,2.30 0 0 0 558.1,177.0 L558.1,175.1 A7.65,2.30 0 0 0 542.8,175.1 Z" fill="url(#gR)"/>
<ellipse cx="550.4" cy="175.1" rx="7.65" ry="2.30" fill="url(#tgR)"/>
<path d="M580.6,140.5 L580.6,176.8 A7.65,2.30 0 0 0 595.9,176.8 L595.9,140.5 A7.65,2.30 0 0 0 580.6,140.5 Z" fill="url(#gR)"/>
<ellipse cx="588.2" cy="140.5" rx="7.65" ry="2.30" fill="url(#tgR)"/>
<path d="M618.6,147.5 L618.6,176.8 A7.65,2.30 0 0 0 633.9,176.8 L633.9,147.5 A7.65,2.30 0 0 0 618.6,147.5 Z" fill="url(#gR)"/>
<ellipse cx="626.2" cy="147.5" rx="7.65" ry="2.30" fill="url(#tgR)"/>
<path d="M422.1,181.2 L422.1,186.7 A7.70,2.30 0 0 0 437.5,186.7 L437.5,181.2 A7.70,2.30 0 0 0 422.1,181.2 Z" fill="url(#gY)"/>
<ellipse cx="429.8" cy="181.2" rx="7.70" ry="2.30" fill="url(#tgY)"/>
<path d="M611.8,182.5 L611.8,186.7 A7.70,2.30 0 0 0 627.2,186.7 L627.2,182.5 A7.70,2.30 0 0 0 611.8,182.5 Z" fill="url(#gY)"/>
<ellipse cx="619.5" cy="182.5" rx="7.70" ry="2.30" fill="url(#tgY)"/>
<ellipse cx="467.5" cy="187.2" rx="7.85" ry="1.80" fill="url(#tgY)"/>
<ellipse cx="505.1" cy="187.2" rx="7.85" ry="1.80" fill="url(#tgY)"/>
<ellipse cx="542.9" cy="187.2" rx="7.85" ry="1.80" fill="url(#tgY)"/>
<ellipse cx="581.1" cy="187.2" rx="7.85" ry="1.80" fill="url(#tgY)"/>
<text x="429.9" y="140.1" font-size="7.3" font-family='"Liberation Sans", Arial, sans-serif' fill="#1a1a1a" stroke="#1a1a1a" stroke-width="0.08">2.4782</text>
<text x="442.7" y="151.3" font-size="7.3" font-family='"Liberation Sans", Arial, sans-serif' fill="#1a1a1a" stroke="#1a1a1a" stroke-width="0.08">0.9620</text>
<text x="481.3" y="137.7" font-size="7.3" font-family='"Liberation Sans", Arial, sans-serif' fill="#1a1a1a" stroke="#1a1a1a" stroke-width="0.08">1.9930</text>
<text x="420.5" y="177.5" font-size="7.3" font-family='"Liberation Sans", Arial, sans-serif' fill="#1a1a1a" stroke="#1a1a1a" stroke-width="0.08">0.4812</text>
<text x="455.6" y="184.9" font-size="7.3" font-family='"Liberation Sans", Arial, sans-serif' fill="#1a1a1a" stroke="#1a1a1a" stroke-width="0.08">0.0000</text>
<text x="493.0" y="184.9" font-size="7.3" font-family='"Liberation Sans", Arial, sans-serif' fill="#1a1a1a" stroke="#1a1a1a" stroke-width="0.08">0.0000</text>
<text x="531.0" y="184.9" font-size="7.3" font-family='"Liberation Sans", Arial, sans-serif' fill="#1a1a1a" stroke="#1a1a1a" stroke-width="0.08">0.0065</text>
<text x="528.6" y="173.7" font-size="7.3" font-family='"Liberation Sans", Arial, sans-serif' fill="#1a1a1a" stroke="#1a1a1a" stroke-width="0.08">0.2226</text>
<text x="552.6" y="162.6" font-size="7.3" font-family='"Liberation Sans", Arial, sans-serif' fill="#1a1a1a" stroke="#1a1a1a" stroke-width="0.08">0.0650</text>
<text x="574.8" y="137.3" font-size="7.3" font-family='"Liberation Sans", Arial, sans-serif' fill="#1a1a1a" stroke="#1a1a1a" stroke-width="0.08">2.7548</text>
<text x="617.8" y="141.9" font-size="7.3" font-family='"Liberation Sans", Arial, sans-serif' fill="#1a1a1a" stroke="#1a1a1a" stroke-width="0.08">2.2183</text>
<text x="594.4" y="153.6" font-size="7.3" font-family='"Liberation Sans", Arial, sans-serif' fill="#1a1a1a" stroke="#1a1a1a" stroke-width="0.08">0.6950</text>
<text x="634.1" y="151.3" font-size="7.3" font-family='"Liberation Sans", Arial, sans-serif' fill="#1a1a1a" stroke="#1a1a1a" stroke-width="0.08">0.8410</text>
<text x="569.4" y="185.0" font-size="7.3" font-family='"Liberation Sans", Arial, sans-serif' fill="#1a1a1a" stroke="#1a1a1a" stroke-width="0.08">0.0003</text>
<text x="606.8" y="180.0" font-size="7.3" font-family='"Liberation Sans", Arial, sans-serif' fill="#1a1a1a" stroke="#1a1a1a" stroke-width="0.08">0.4174</text>
<text x="498.5" y="29.1" font-size="7.3" font-family='"Liberation Sans", Arial, sans-serif' fill="#1a1a1a" stroke="#1a1a1a" stroke-width="0.08">21.4112</text>
<text x="521.1" y="68.4" font-size="7.3" font-family='"Liberation Sans", Arial, sans-serif' fill="#1a1a1a" stroke="#1a1a1a" stroke-width="0.08">6.9620</text>
<text x="462.0" y="98.0" font-size="7.3" font-family='"Liberation Sans", Arial, sans-serif' fill="#1a1a1a" stroke="#1a1a1a" stroke-width="0.08">5.6252</text>
<text x="376.3" y="108.2" font-size="9.7" text-anchor="middle" transform="rotate(-90 376.3 108.2)" font-family='"Liberation Sans", Arial, sans-serif' fill="#1a1a1a" stroke="#1a1a1a" stroke-width="0.18">Learning and prediction error (%)</text>
<text x="519.8" y="217.8" font-size="10.08" text-anchor="middle" font-family='"Liberation Sans", Arial, sans-serif' fill="#1a1a1a" stroke="#1a1a1a" stroke-width="0.18">Neurocognitive architecture</text>
<text x="525.6" y="237.3" font-size="10.7" text-anchor="middle" font-weight="bold" font-family='"DejaVu Sans", "Liberation Sans", sans-serif' fill="#1a1a1a" stroke="#1a1a1a" stroke-width="0.18">(b)</text>
<text x="641.9" y="205.3" font-size="8.3" transform="rotate(-52 641.9 205.3)" font-family='"Liberation Sans", Arial, sans-serif' fill="#1a1a1a" stroke="#1a1a1a" stroke-width="0.18">train</text>
<text x="653.8" y="187.5" font-size="8.3" transform="rotate(-52 653.8 187.5)" font-family='"Liberation Sans", Arial, sans-serif' fill="#1a1a1a" stroke="#1a1a1a" stroke-width="0.18">test</text>
<text x="664.3" y="172.6" font-size="8.3" transform="rotate(-54 664.3 172.6)" font-family='"Liberation Sans", Arial, sans-serif' fill="#1a1a1a" stroke="#1a1a1a" stroke-width="0.18">all data.</text>
<text x="651.2" y="211.9" font-size="9.6" transform="rotate(-51.5 651.2 211.9)" font-family='"Liberation Sans", Arial, sans-serif' fill="#1a1a1a" stroke="#1a1a1a" stroke-width="0.18">Model phase</text>
</svg>
</body></html>
